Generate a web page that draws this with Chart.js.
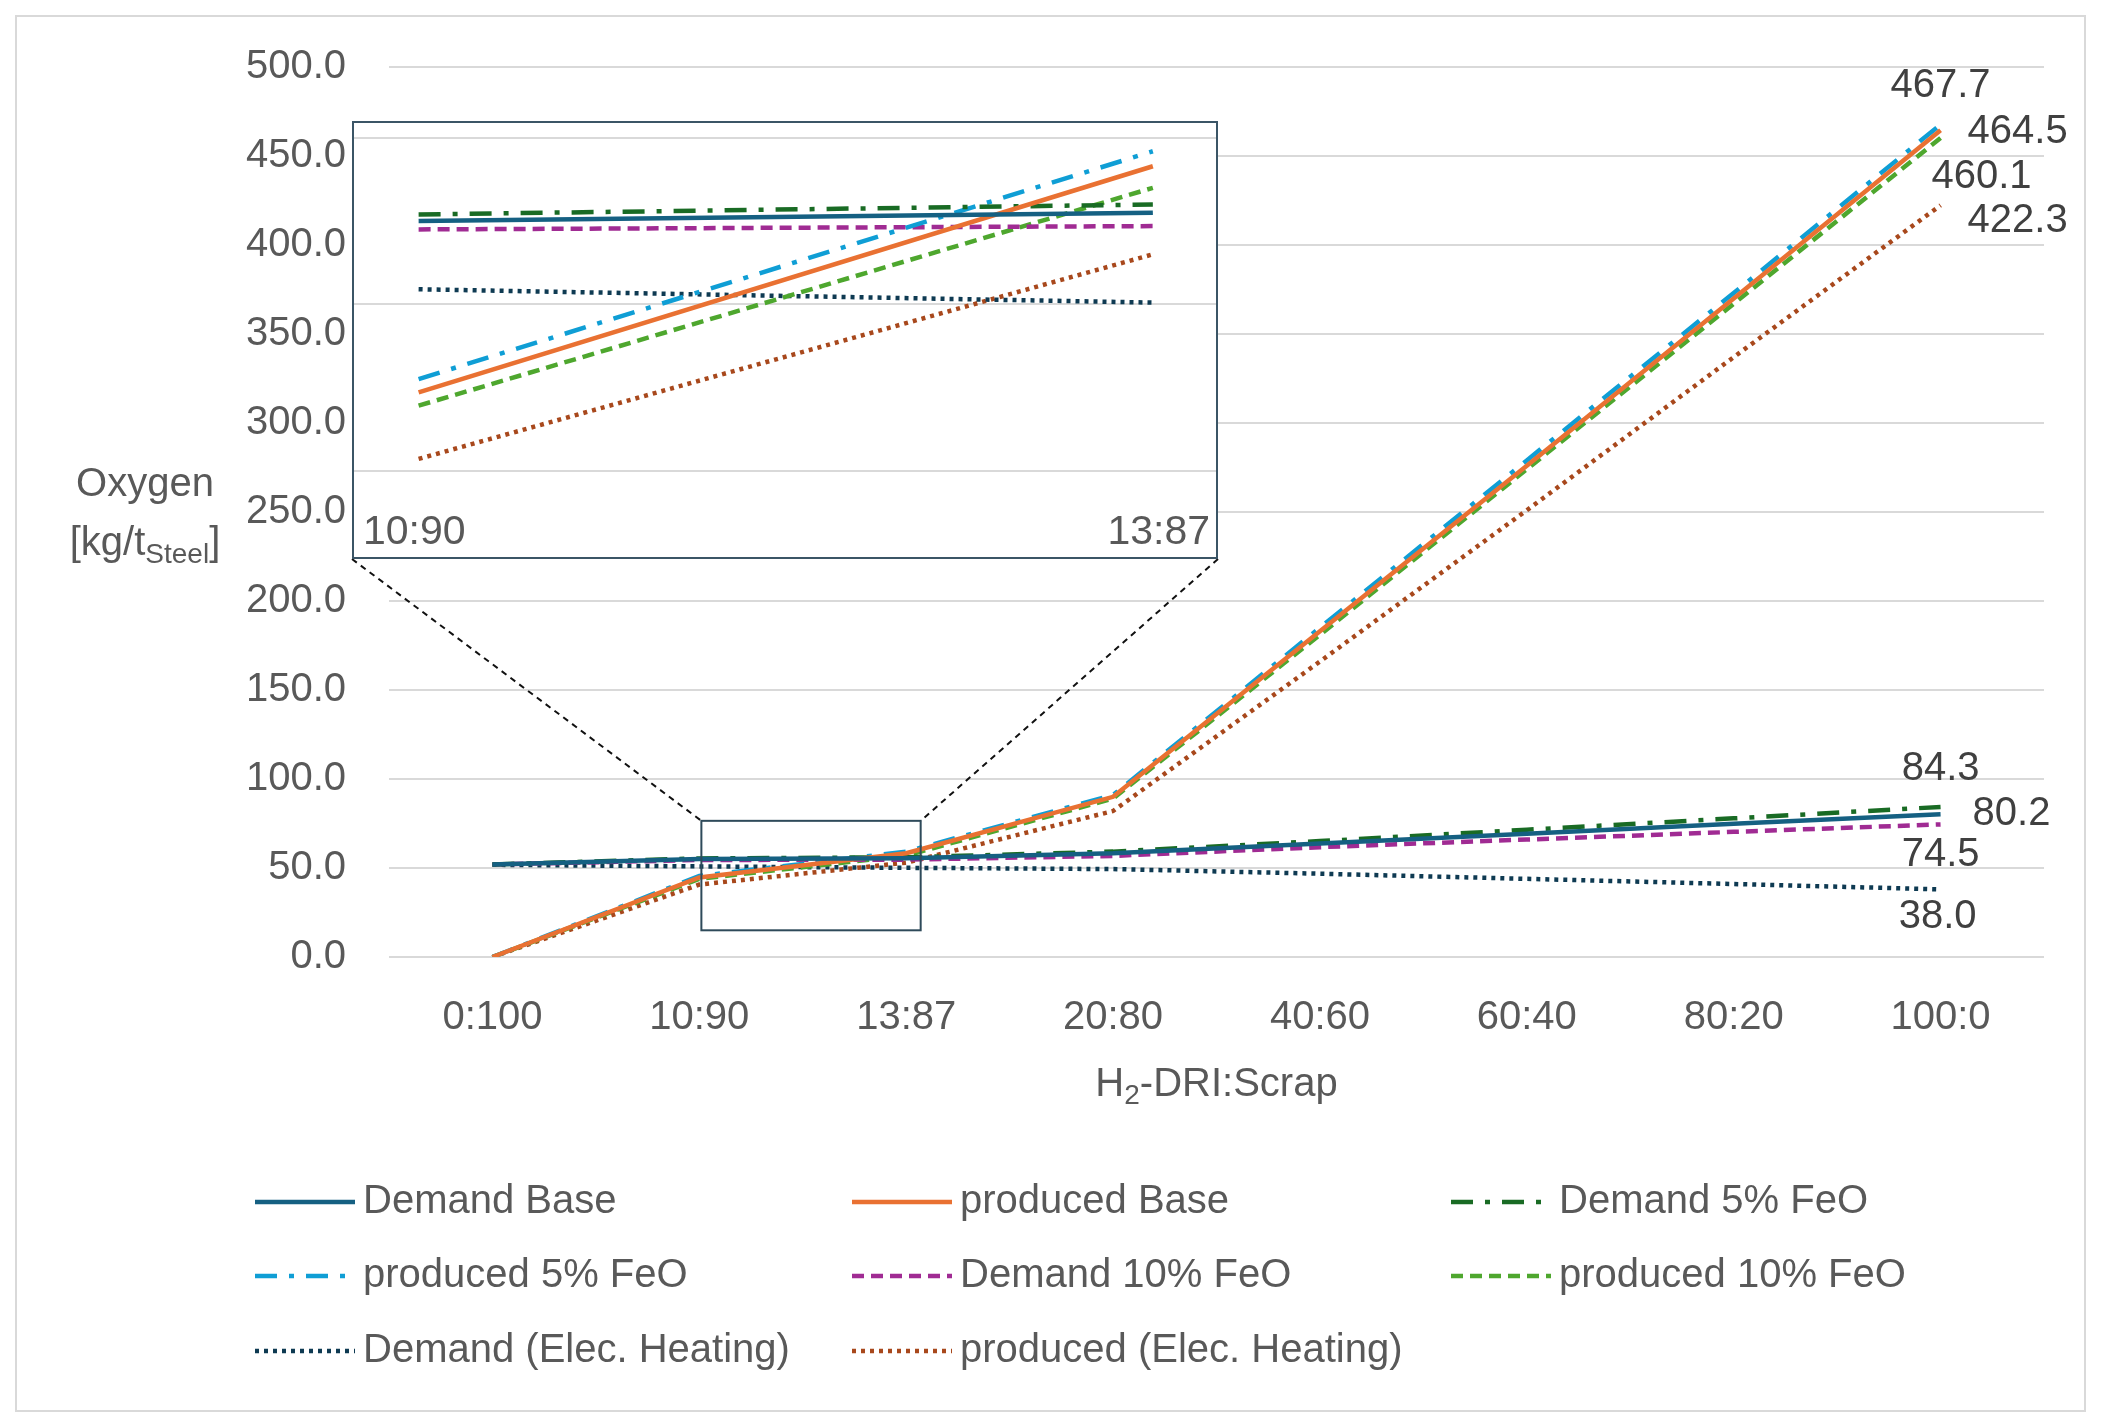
<!DOCTYPE html>
<html>
<head>
<meta charset="utf-8">
<title>Oxygen demand and production</title>
<script src="https://cdn.jsdelivr.net/npm/chart.js@4.4.1/dist/chart.umd.min.js"></script>
<style>
  html, body { margin: 0; padding: 0; background: #fff; }
  #wrap { position: relative; width: 2101px; height: 1427px; }
  #main { position: absolute; left: 0; top: 0; }
  #insetBox {
    position: absolute; left: 352px; top: 121px; width: 866px; height: 438px;
    box-sizing: border-box; border: 2px solid #3B5566; background: #fff;
  }
  #inset { display: block; }
</style>
</head>
<body>
<div id="wrap">
  <canvas id="main" width="2101" height="1427"></canvas>
  <div id="insetBox"><canvas id="inset" width="862" height="434"></canvas></div>
</div>
<script>
(function () {

  'use strict';

  // H2-DRI:Scrap ratios.
  var CATEGORIES = ['0:100', '10:90', '13:87', '20:80', '40:60', '60:40', '80:20', '100:0'];

  var SERIES_NAMES = [
    'Demand Base',
    'produced Base',
    'Demand 5% FeO',
    'produced 5% FeO',
    'Demand 10% FeO',
    'produced 10% FeO',
    'Demand (Elec. Heating)',
    'produced (Elec. Heating)'
  ];

  // Oxygen [kg/t steel].
  var DEMAND_BASE = [52.0, 55.0, 55.5, 58.3, 63.8, 69.3, 74.8, 80.2];
  var PRODUCED_BASE = [0.0, 44.7, 58.3, 90.0, 183.0, 276.0, 370.0, 464.5];
  var DEMAND_FEO5 = [52.0, 55.4, 56.0, 59.2, 65.1, 71.5, 77.9, 84.3];
  var PRODUCED_FEO5 = [0.0, 45.5, 59.2, 91.0, 185.0, 279.0, 373.0, 467.7];
  var DEMAND_FEO10 = [52.0, 54.5, 54.7, 56.8, 61.7, 66.0, 70.3, 74.5];
  var PRODUCED_FEO10 = [0.0, 43.9, 57.0, 89.0, 181.0, 274.0, 367.0, 460.1];
  var DEMAND_ELEC = [51.8, 50.9, 50.1, 49.4, 46.8, 43.9, 41.0, 38.0];
  var PRODUCED_ELEC = [0.0, 40.7, 53.0, 82.0, 166.0, 251.0, 337.0, 422.3];

  var SERIES = [
    DEMAND_BASE, PRODUCED_BASE, DEMAND_FEO5, PRODUCED_FEO5,
    DEMAND_FEO10, PRODUCED_FEO10, DEMAND_ELEC, PRODUCED_ELEC
  ];

  // Main value axis.
  var Y_MIN = 0;
  var Y_MAX = 500;
  var Y_STEP = 50;

  // Inset (zoom on 10:90 .. 13:87) value axis.
  var INSET_FROM = CATEGORIES.indexOf('10:90');
  var INSET_TO = CATEGORIES.indexOf('13:87');
  var INSET_Y_MIN = 34.8;
  var INSET_Y_MAX = 60.9;
  var INSET_GRID = [40, 50, 60];

  // Area of the main chart that the inset magnifies (category index / value).
  var ZOOM_BOX = { from: 1.01, to: 2.07, low: 15, high: 76.5 };

  /**
   * Line styles, one per series.
   */
  var STYLES = [
    { color: '#156082', dash: [] },
    { color: '#E97132', dash: [] },
    { color: '#196B24', dash: [22, 12, 5, 12] },
    { color: '#0F9ED5', dash: [22, 12, 5, 12] },
    { color: '#A02B93', dash: [12, 7] },
    { color: '#4EA72E', dash: [12, 7] },
    { color: '#0E3A52', dash: [4, 5] },
    { color: '#A8481C', dash: [4, 5] }
  ];

  /**
   * End-value label placement [dx, dy, align], relative to the last point.
   */
  var LABEL_PLACES = [
    [32, 0, 'left'],
    [27, 2, 'left'],
    [0, -38, 'center'],
    [0, -39, 'center'],
    [0, 31, 'center'],
    [41, 39, 'center'],
    [-3, 28, 'center'],
    [27, 16, 'left']
  ];

  var FONT = '"Liberation Sans", Arial, sans-serif';
  var TEXT_COLOR = '#595959';
  var LABEL_COLOR = '#404040';
  var GRID_COLOR = '#D9D9D9';
  var LINE_WIDTH = 4.5;

  var LEGEND_COLS = [255, 852, 1451];
  var LEGEND_ROWS = [1202, 1276, 1351];
  var LEGEND_SAMPLE = 100;

  Chart.defaults.font.family = FONT;
  Chart.defaults.font.size = 40;
  Chart.defaults.color = TEXT_COLOR;

  function font(size) {
    return size + 'px ' + FONT;
  }

  /**
   * Draw text with a subscript part: parts = [[text, isSub], ...].
   */
  function drawRich(ctx, parts, cx, cy) {
    var widths = parts.map(function (p) {
      ctx.font = font(p[1] ? 28 : 40);
      return ctx.measureText(p[0]).width;
    });
    var total = widths.reduce(function (a, b) { return a + b; }, 0);
    var x = cx - total / 2;
    ctx.textAlign = 'left';
    ctx.textBaseline = 'middle';
    parts.forEach(function (p, i) {
      ctx.font = font(p[1] ? 28 : 40);
      ctx.fillText(p[0], x, p[1] ? cy + 11 : cy);
      x += widths[i];
    });
  }

  function buildDatasets(pick) {
    return SERIES.map(function (values, i) {
      return {
        label: SERIES_NAMES[i],
        data: pick(values),
        borderColor: STYLES[i].color,
        backgroundColor: STYLES[i].color,
        borderDash: STYLES[i].dash,
        borderWidth: LINE_WIDTH,
        borderCapStyle: 'butt',
        pointRadius: 0,
        tension: 0,
        fill: false
      };
    });
  }

  /**
   * Frame, zoom box, end labels, axis titles and the 3-column legend.
   */
  var decorPlugin = {
    id: 'decor',
    beforeDraw: function (chart) {
      var ctx = chart.ctx;
      ctx.save();
      ctx.strokeStyle = GRID_COLOR;
      ctx.lineWidth = 2;
      ctx.strokeRect(16, 16, chart.width - 32, chart.height - 32);
      ctx.restore();
    },
    afterDatasetsDraw: function (chart) {
      var ctx = chart.ctx;
      var xs = chart.scales.x;
      var ys = chart.scales.y;

      // Zoom box and connectors to the inset.
      var left = xs.getPixelForValue(ZOOM_BOX.from);
      var right = xs.getPixelForValue(ZOOM_BOX.to);
      var top = ys.getPixelForValue(ZOOM_BOX.high);
      var bottom = ys.getPixelForValue(ZOOM_BOX.low);
      var box = document.getElementById('insetBox');
      var bl = box.offsetLeft;
      var bb = box.offsetTop + box.offsetHeight;
      var br = box.offsetLeft + box.offsetWidth;

      ctx.save();
      ctx.strokeStyle = '#2E4A5A';
      ctx.lineWidth = 2;
      ctx.strokeRect(left, top, right - left, bottom - top);
      ctx.strokeStyle = '#111';
      ctx.setLineDash([6, 5]);
      ctx.beginPath();
      ctx.moveTo(bl, bb);
      ctx.lineTo(left, top);
      ctx.moveTo(br, bb);
      ctx.lineTo(right, top);
      ctx.stroke();
      ctx.restore();

      // Values at 100:0.
      ctx.save();
      ctx.font = font(40);
      ctx.fillStyle = LABEL_COLOR;
      ctx.textBaseline = 'middle';
      chart.data.datasets.forEach(function (ds, i) {
        var meta = chart.getDatasetMeta(i);
        var last = meta.data[meta.data.length - 1];
        var place = LABEL_PLACES[i];
        ctx.textAlign = place[2];
        ctx.fillText(ds.data[ds.data.length - 1].toFixed(1), last.x + place[0], last.y + place[1]);
      });
      ctx.restore();
    },
    afterDraw: function (chart) {
      var ctx = chart.ctx;
      var area = chart.chartArea;
      ctx.save();
      ctx.fillStyle = TEXT_COLOR;

      // Axis titles.
      var midY = (area.top + area.bottom) / 2;
      drawRich(ctx, [['Oxygen', false]], 145, midY - 27);
      drawRich(ctx, [['[kg/t', false], ['Steel', true], [']', false]], 145, midY + 32);
      drawRich(ctx, [['H', false], ['2', true], ['-DRI:Scrap', false]], (area.left + area.right) / 2, 1085);

      // Legend.
      chart.data.datasets.forEach(function (ds, i) {
        var x = LEGEND_COLS[i % 3];
        var y = LEGEND_ROWS[Math.floor(i / 3)];
        ctx.strokeStyle = ds.borderColor;
        ctx.lineWidth = ds.borderWidth;
        ctx.setLineDash(ds.borderDash);
        ctx.beginPath();
        ctx.moveTo(x, y);
        ctx.lineTo(x + LEGEND_SAMPLE, y);
        ctx.stroke();
        ctx.setLineDash([]);
        ctx.font = font(40);
        ctx.textAlign = 'left';
        ctx.textBaseline = 'middle';
        ctx.fillText(ds.label, x + LEGEND_SAMPLE + 8, y);
      });
      ctx.restore();
    }
  };

  new Chart(document.getElementById('main'), {
    type: 'line',
    data: {
      labels: CATEGORIES,
      datasets: buildDatasets(function (v) { return v; })
    },
    options: {
      responsive: false,
      devicePixelRatio: 1,
      animation: false,
      events: [],
      layout: { padding: { left: 0, right: 57, top: 60, bottom: 0 } },
      plugins: { legend: { display: false }, tooltip: { enabled: false } },
      scales: {
        x: {
          offset: true,
          grid: { display: false },
          border: { display: false },
          ticks: { padding: 29, color: TEXT_COLOR, maxRotation: 0 },
          afterFit: function (scale) { scale.height = 470; }
        },
        y: {
          min: Y_MIN,
          max: Y_MAX,
          grid: { color: GRID_COLOR, lineWidth: 2, drawTicks: false },
          border: { display: false },
          ticks: {
            stepSize: Y_STEP,
            padding: 43,
            color: TEXT_COLOR,
            callback: function (v) { return v.toFixed(1); }
          },
          afterFit: function (scale) { scale.width = 389; }
        }
      }
    },
    plugins: [decorPlugin]
  });

  /**
   * Category names at the inset's bottom corners.
   */
  var insetLabelPlugin = {
    id: 'insetLabels',
    afterDraw: function (chart) {
      var ctx = chart.ctx;
      ctx.save();
      ctx.font = font(41);
      ctx.fillStyle = TEXT_COLOR;
      ctx.textBaseline = 'middle';
      ctx.textAlign = 'left';
      ctx.fillText(CATEGORIES[INSET_FROM], 9, chart.height - 24);
      ctx.textAlign = 'right';
      ctx.fillText(CATEGORIES[INSET_TO], chart.width - 6, chart.height - 24);
      ctx.restore();
    }
  };

  new Chart(document.getElementById('inset'), {
    type: 'line',
    data: {
      datasets: buildDatasets(function (v) {
        return [{ x: 0, y: v[INSET_FROM] }, { x: 1, y: v[INSET_TO] }];
      })
    },
    options: {
      responsive: false,
      devicePixelRatio: 1,
      animation: false,
      events: [],
      layout: { padding: 0 },
      plugins: { legend: { display: false }, tooltip: { enabled: false } },
      scales: {
        x: { type: 'linear', min: -0.088, max: 1.086, display: false },
        y: {
          min: INSET_Y_MIN,
          max: INSET_Y_MAX,
          grid: { color: GRID_COLOR, lineWidth: 2, drawTicks: false },
          border: { display: false },
          ticks: { display: false },
          afterBuildTicks: function (scale) {
            scale.ticks = INSET_GRID.map(function (v) { return { value: v }; });
          }
        }
      }
    },
    plugins: [insetLabelPlugin]
  });

})();
</script>
</body>
</html>
